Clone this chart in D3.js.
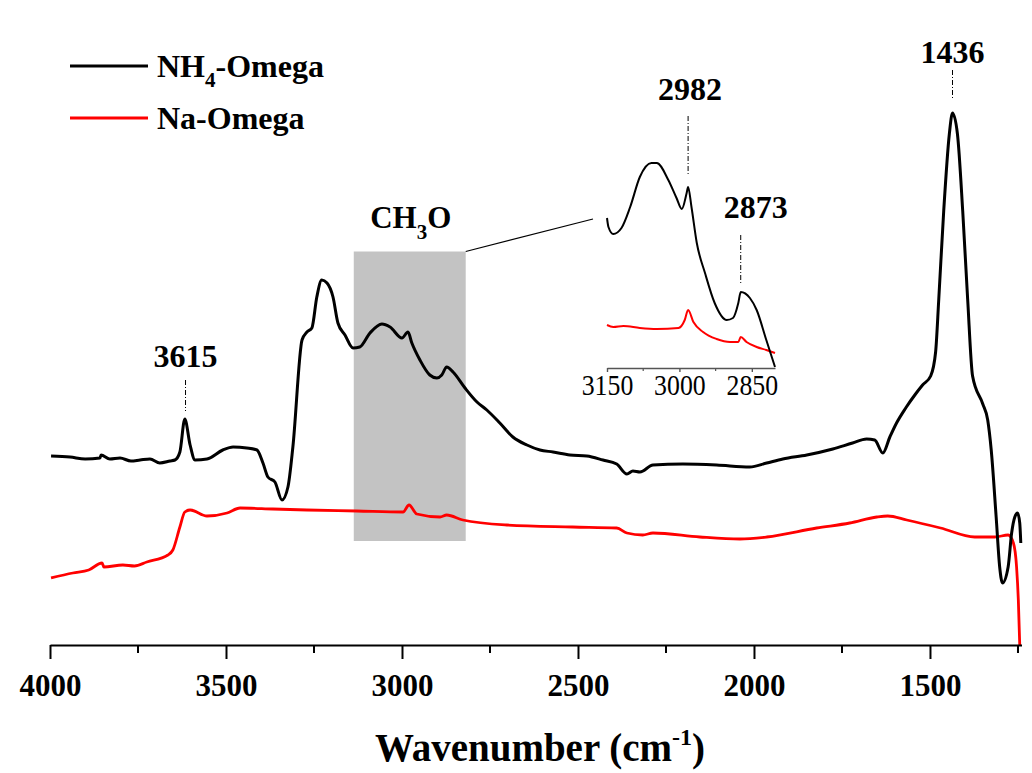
<!DOCTYPE html>
<html>
<head>
<meta charset="utf-8">
<script src="https://cdn.jsdelivr.net/npm/d3@7"></script>
<style>
  body { margin: 0; background: #fff; }
  svg { display: block; }
  text { font-family: "Liberation Serif", "Times New Roman", serif; }
</style>
</head>
<body>
<div id="chart"></div>
<script>
// NH4-Omega spectrum (wavenumber in cm-1, intensity in a.u.)
const nh4Wavenumber = [3997, 3943, 3900, 3858, 3855, 3830, 3801, 3770, 3744, 3716, 3688, 3659, 3645, 3631, 3617, 3602, 3588,
  3554, 3509, 3480, 3441, 3412, 3395, 3381, 3361, 3341, 3324, 3310, 3284, 3270, 3256, 3242, 3228, 3213, 3196, 3182,
  3162, 3139, 3120, 3091, 3057, 3034, 3000, 2983, 2972, 2949, 2921, 2901, 2887, 2873, 2855, 2821, 2787, 2759, 2722,
  2685, 2645, 2608, 2571, 2523, 2475, 2429, 2390, 2361, 2344, 2324, 2287, 2202, 2106, 2012, 1964, 1918, 1850, 1776,
  1720, 1680, 1657, 1634, 1614, 1595, 1569, 1541, 1521, 1498, 1484, 1475, 1461, 1445, 1436, 1422, 1407, 1393, 1379,
  1350, 1336, 1326, 1312, 1302, 1294, 1278, 1268, 1259, 1251, 1245, 1242];
const nh4Intensity = [1.89, 1.88, 1.86, 1.87, 1.90, 1.86, 1.87, 1.84, 1.85, 1.86, 1.82, 1.84, 1.85, 1.93, 2.26, 2.00, 1.85,
  1.86, 1.95, 1.98, 1.97, 1.95, 1.82, 1.68, 1.63, 1.45, 1.58, 1.98, 3.05, 3.13, 3.17, 3.48, 3.65, 3.62, 3.48, 3.22,
  3.10, 2.97, 2.98, 3.12, 3.21, 3.18, 3.07, 3.13, 3.02, 2.85, 2.70, 2.67, 2.70, 2.78, 2.73, 2.57, 2.43, 2.35, 2.22,
  2.08, 2.00, 1.95, 1.93, 1.90, 1.89, 1.85, 1.81, 1.71, 1.74, 1.73, 1.80, 1.81, 1.80, 1.78, 1.82, 1.86, 1.90, 1.96,
  2.02, 2.06, 2.05, 1.92, 2.08, 2.22, 2.37, 2.51, 2.60, 2.69, 2.93, 3.46, 4.34, 5.11, 5.32, 5.11, 4.34, 3.46, 2.69,
  2.41, 2.25, 1.95, 1.28, 0.78, 0.62, 0.78, 1.12, 1.28, 1.32, 1.22, 1.02];

// Na-Omega spectrum
const naWavenumber = [3997, 3935, 3890, 3852, 3847, 3793, 3760, 3725, 3665, 3651, 3631, 3617, 3602, 3554, 3497, 3460,
  3367, 3270, 3128, 2997, 2980, 2958, 2892, 2873, 2827, 2702, 2515, 2390, 2361, 2316, 2287, 2154, 2040, 1964, 1822,
  1728, 1651, 1620, 1566, 1470, 1373, 1316, 1278, 1263, 1254, 1249, 1245];
const naIntensity = [0.67, 0.72, 0.75, 0.82, 0.78, 0.80, 0.79, 0.83, 0.90, 0.95, 1.18, 1.33, 1.35, 1.29, 1.32, 1.37,
  1.36, 1.35, 1.34, 1.33, 1.40, 1.31, 1.28, 1.30, 1.25, 1.20, 1.18, 1.17, 1.12, 1.10, 1.12, 1.08, 1.06, 1.08, 1.17,
  1.22, 1.28, 1.29, 1.25, 1.17, 1.08, 1.08, 1.10, 1.02, 0.78, 0.45, 0.00];

// inset: CH3O region, 3150-2800 cm-1
const insetWavenumberNH4 = [3150, 3147, 3137, 3120, 3102, 3082, 3058, 3047, 3023, 3006, 2995, 2985, 2982, 2975, 2964,
  2947, 2927, 2902, 2889, 2878, 2873, 2854, 2840, 2820, 2802];
const insetIntensityNH4 = [1.50, 1.41, 1.34, 1.40, 1.61, 1.91, 2.05, 2.05, 1.88, 1.70, 1.59, 1.75, 1.81, 1.61, 1.25,
  0.95, 0.65, 0.48, 0.50, 0.65, 0.76, 0.70, 0.58, 0.28, 0.01];
const insetWavenumberNa = [3150, 3137, 3116, 3082, 3047, 3002, 2989, 2982, 2971, 2951, 2923, 2895, 2878, 2873, 2861,
  2840, 2820, 2802];
const insetIntensityNa = [0.43, 0.41, 0.42, 0.40, 0.39, 0.40, 0.48, 0.58, 0.46, 0.36, 0.29, 0.26, 0.26, 0.31, 0.26,
  0.21, 0.18, 0.15];

const majorTicks = [4000, 3500, 3000, 2500, 2000, 1500];
const minorTicks = [3750, 3250, 2750, 2250, 1750, 1250];
const insetMajorTicks = [3150, 3000, 2850];
const insetMinorTicks = [3075, 2925];
const seriesNames = ["NH4-Omega", "Na-Omega"];
const seriesColors = ["#000000", "#ff0000"];
const mainPeaks = [3615, 1436];
const insetPeaks = [2982, 2873];
const ch3oRange = [3137, 2819];

const width = 1032;
const height = 773;

const svg = d3.select("#chart")
  .append("svg")
  .attr("width", width)
  .attr("height", height);

svg.append("rect").attr("width", width).attr("height", height).attr("fill", "#fff");

const x = d3.scaleLinear().domain([4000, 1240]).range([50, 1021.5]);
const y = d3.scaleLinear().domain([0, 6]).range([645, 45]);

const line = d3.line()
  .x(d => x(d[0]))
  .y(d => y(d[1]))
  .curve(d3.curveMonotoneX);

// CH3O highlight box
svg.append("rect")
  .attr("x", x(ch3oRange[0]))
  .attr("y", 251.5)
  .attr("width", x(ch3oRange[1]) - x(ch3oRange[0]))
  .attr("height", 541 - 251.5)
  .attr("fill", "#c3c3c3");

const ch3o = svg.append("text")
  .attr("x", (x(ch3oRange[0]) + x(ch3oRange[1])) / 2 + 1)
  .attr("y", 228)
  .attr("text-anchor", "middle")
  .attr("font-size", 31)
  .attr("font-weight", "bold");
ch3o.append("tspan").text("CH");
ch3o.append("tspan").attr("font-size", 21).attr("dy", 11).text("3");
ch3o.append("tspan").attr("dy", -11).text("O");

svg.append("line")
  .attr("x1", x(ch3oRange[1])).attr("y1", 251.5)
  .attr("x2", 593).attr("y2", 219)
  .attr("stroke", "#000").attr("stroke-width", 1.2);

// main spectra
const nh4Data = nh4Wavenumber.map((w, i) => [w, nh4Intensity[i]]);
const naData = naWavenumber.map((w, i) => [w, naIntensity[i]]);

svg.append("path")
  .datum(naData)
  .attr("d", line)
  .attr("fill", "none")
  .attr("stroke", seriesColors[1])
  .attr("stroke-width", 2.8);

svg.append("path")
  .datum(nh4Data)
  .attr("d", line)
  .attr("fill", "none")
  .attr("stroke", seriesColors[0])
  .attr("stroke-width", 3);

// bottom axis
const axisG = svg.append("g").attr("transform", "translate(0,645)");
axisG.call(d3.axisBottom(x).tickValues(majorTicks).tickSize(14).tickSizeOuter(0).tickFormat(d3.format("d")));
axisG.selectAll(".tick line").attr("stroke-width", 2);
axisG.select(".domain").attr("stroke-width", 2);
axisG.selectAll(".tick text")
  .attr("y", 51)
  .attr("dy", 0)
  .attr("font-size", 31)
  .attr("font-weight", "bold")
  .attr("font-family", "Liberation Serif, serif")
  .attr("fill", "#000");
axisG.selectAll(".minor")
  .data(minorTicks)
  .join("line")
  .attr("class", "minor")
  .attr("x1", d => x(d)).attr("x2", d => x(d))
  .attr("y1", 0).attr("y2", 8)
  .attr("stroke", "#000").attr("stroke-width", 2);

const xTitle = svg.append("text")
  .attr("x", 540)
  .attr("y", 761)
  .attr("text-anchor", "middle")
  .attr("font-size", 39)
  .attr("font-weight", "bold");
xTitle.append("tspan").text("Wavenumber (cm");
xTitle.append("tspan").attr("font-size", 24).attr("dy", -16).text("-1");
xTitle.append("tspan").attr("dy", 16).text(")");

// peak labels on main plot
const mainPeakLabel = svg.selectAll(".mainPeak")
  .data(mainPeaks)
  .join("g")
  .attr("class", "mainPeak");
mainPeakLabel.append("text")
  .attr("x", d => x(d))
  .attr("y", (d, i) => i === 0 ? 367 : 63)
  .attr("text-anchor", "middle")
  .attr("font-size", 32)
  .attr("font-weight", "bold")
  .text(d => d);
mainPeakLabel.append("line")
  .attr("x1", d => x(d)).attr("x2", d => x(d))
  .attr("y1", (d, i) => i === 0 ? 380 : 70)
  .attr("y2", (d, i) => i === 0 ? 411 : 99)
  .attr("stroke", "#000")
  .attr("stroke-width", 1)
  .attr("stroke-dasharray", "5,2,1,2");

// inset
const ix = d3.scaleLinear().domain([3150, 2802]).range([607, 775]);
const iy = d3.scaleLinear().domain([0, 2.1]).range([368, 158]);
const insetLine = d3.line()
  .x(d => ix(d[0]))
  .y(d => iy(d[1]))
  .curve(d3.curveMonotoneX);

const insetNH4 = insetWavenumberNH4.map((w, i) => [w, insetIntensityNH4[i]]);
const insetNa = insetWavenumberNa.map((w, i) => [w, insetIntensityNa[i]]);

svg.append("path")
  .datum(insetNa)
  .attr("d", insetLine)
  .attr("fill", "none")
  .attr("stroke", seriesColors[1])
  .attr("stroke-width", 2);

svg.append("path")
  .datum(insetNH4)
  .attr("d", insetLine)
  .attr("fill", "none")
  .attr("stroke", seriesColors[0])
  .attr("stroke-width", 2);

const insetAxis = svg.append("g").attr("transform", "translate(0,368)");
insetAxis.call(d3.axisBottom(ix).tickValues(insetMajorTicks).tickSize(4).tickSizeOuter(0).tickFormat(d3.format("d")));
insetAxis.select(".domain").attr("stroke", "#555").attr("stroke-width", 1.6);
insetAxis.selectAll(".tick line").attr("stroke", "#555").attr("stroke-width", 1.4);
insetAxis.selectAll(".tick text")
  .attr("y", 27)
  .attr("dy", 0)
  .attr("transform", "scale(0.86,1)")
  .attr("font-size", 30)
  .attr("font-family", "Liberation Serif, serif")
  .attr("fill", "#000");
insetAxis.selectAll(".minor")
  .data(insetMinorTicks)
  .join("line")
  .attr("class", "minor")
  .attr("x1", d => ix(d)).attr("x2", d => ix(d))
  .attr("y1", 0).attr("y2", 3)
  .attr("stroke", "#555").attr("stroke-width", 1.2);

const insetPeakLabel = svg.selectAll(".insetPeak")
  .data(insetPeaks)
  .join("g")
  .attr("class", "insetPeak");
insetPeakLabel.append("text")
  .attr("x", (d, i) => ix(d) + (i === 0 ? 2 : 15))
  .attr("y", (d, i) => i === 0 ? 100 : 218)
  .attr("text-anchor", "middle")
  .attr("font-size", 32)
  .attr("font-weight", "bold")
  .text(d => d);
insetPeakLabel.append("line")
  .attr("x1", d => ix(d)).attr("x2", d => ix(d))
  .attr("y1", (d, i) => i === 0 ? 116 : 235)
  .attr("y2", (d, i) => i === 0 ? 175 : 283)
  .attr("stroke", "#000")
  .attr("stroke-width", 1)
  .attr("stroke-dasharray", "5,2,1,2");

// legend
const legend = svg.selectAll(".legend")
  .data(seriesNames)
  .join("g")
  .attr("class", "legend")
  .attr("transform", (d, i) => `translate(70,${66 + i * 52})`);
legend.append("line")
  .attr("x1", 0).attr("x2", 78)
  .attr("stroke", (d, i) => seriesColors[i])
  .attr("stroke-width", 3);
const legendText = legend.append("text")
  .attr("x", 87)
  .attr("y", 11)
  .attr("font-size", 32)
  .attr("font-weight", "bold");
legendText.each(function (d) {
  const t = d3.select(this);
  if (d === "NH4-Omega") {
    t.append("tspan").text("NH");
    t.append("tspan").attr("font-size", 21).attr("dy", 10).text("4");
    t.append("tspan").attr("dy", -10).text("-Omega");
  } else {
    t.text(d);
  }
});
</script>
</body>
</html>
